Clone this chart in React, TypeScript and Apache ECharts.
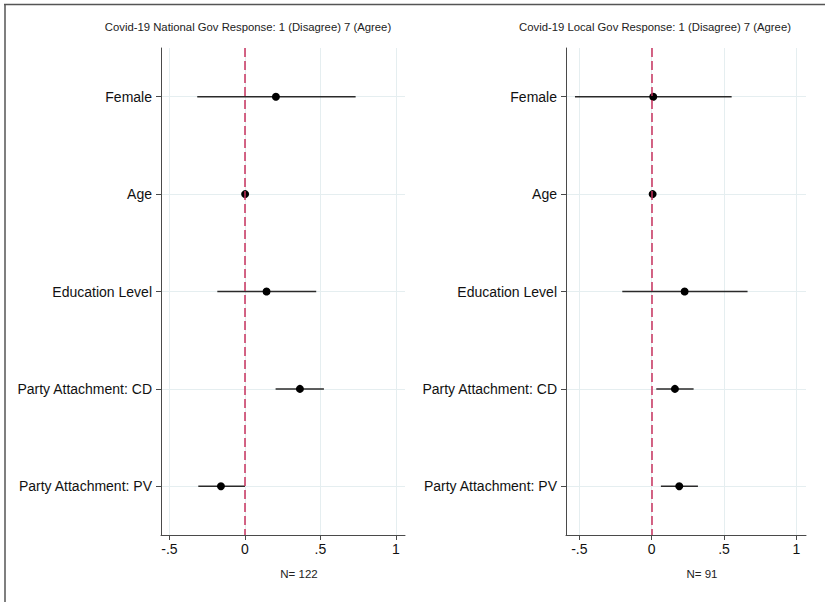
import React, { useEffect, useRef } from "react";
import * as echarts from "echarts";

const categories = ["Female", "Age", "Education Level", "Party Attachment: CD", "Party Attachment: PV"];
const xTicks = [-0.5, 0, 0.5, 1];

// National panel
const natEst = [0.205, 0.001, 0.143, 0.364, -0.159];
const natLo = [-0.316, -0.003, -0.183, 0.203, -0.309];
const natHi = [0.733, 0.005, 0.472, 0.523, 0.0];

// Local panel
const locEst = [0.011, 0.007, 0.228, 0.161, 0.191];
const locLo = [-0.53, 0.003, -0.203, 0.032, 0.064];
const locHi = [0.553, 0.011, 0.663, 0.29, 0.32];

const titles = [
  "Covid-19 National Gov Response: 1 (Disagree) 7 (Agree)",
  "Covid-19 Local Gov Response: 1 (Disagree) 7 (Agree)",
];
const nLabels = ["N= 122", "N= 91"];

const FONT = "Liberation Sans, Arial, Helvetica, sans-serif";
const GRIDC = "#e5eef0";
const AXISC = "#4a4a4a";

const fmtX = (v: number) => {
  if (v === 0) return "0";
  if (v === 1) return "1";
  return String(v).replace("0.", ".");
};

export default function App() {
  const ref = useRef<HTMLDivElement>(null);
  useEffect(() => {
    if (!ref.current) return;
    const chart = echarts.init(ref.current, null, { renderer: "svg" });

    const grids = [
      { left: 161, top: 48, width: 244, height: 487 },
      { left: 566, top: 48, width: 240, height: 487 },
    ];
    const xRanges = [
      [-0.556, 1.06],
      [-0.592, 1.067],
    ];

    const xAxis = xRanges.map((r, i) => ({
      type: "value",
      gridIndex: i,
      min: r[0],
      max: r[1],
      position: "bottom",
      axisLine: { show: true, onZero: false, lineStyle: { color: AXISC, width: 1 } },
      axisTick: { show: true, length: 5, customValues: xTicks, lineStyle: { color: AXISC } },
      axisLabel: {
        customValues: xTicks,
        formatter: fmtX,
        fontSize: 14,
        fontFamily: FONT,
        color: "#111",
        margin: 7,
      },
      splitLine: { show: true, lineStyle: { color: GRIDC, width: 1 } },
    }));

    const yIdx = categories.map((_, i) => i);
    const yAxis = [0, 1].map((i) => ({
      type: "value",
      gridIndex: i,
      min: -0.5,
      max: 4.5,
      inverse: true,
      axisLine: { show: true, onZero: false, lineStyle: { color: AXISC, width: 1 } },
      axisTick: { show: true, length: 5, customValues: yIdx, lineStyle: { color: AXISC } },
      axisLabel: {
        customValues: yIdx,
        formatter: (v: number) => categories[Math.round(v)] ?? "",
        fontSize: 14,
        fontFamily: FONT,
        color: "#111",
        margin: 9,
      },
      splitLine: { show: true, lineStyle: { color: GRIDC, width: 1 } },
    }));

    const panels = [
      { est: natEst, lo: natLo, hi: natHi },
      { est: locEst, lo: locLo, hi: locHi },
    ];

    const series: any[] = [];
    panels.forEach((p, i) => {
      series.push({
        type: "custom",
        xAxisIndex: i,
        yAxisIndex: i,
        z: 2,
        encode: { x: [1, 2], y: 0 },
        data: categories.map((_, k) => [k, p.lo[k], p.hi[k]]),
        renderItem: (params: any, api: any) => {
          const y = api.value(0);
          const a = api.coord([api.value(1), y]);
          const b = api.coord([api.value(2), y]);
          return {
            type: "line",
            shape: { x1: a[0], y1: a[1], x2: b[0], y2: b[1] },
            style: { stroke: "#2a2a2a", lineWidth: 1.5 },
          };
        },
        markLine: {
          silent: true,
          symbol: "none",
          label: { show: false },
          lineStyle: { color: "#c8325e", type: [9, 4], width: 1.5 },
          data: [{ xAxis: 0 }],
        },
      });
      series.push({
        type: "scatter",
        xAxisIndex: i,
        yAxisIndex: i,
        z: 3,
        symbol: "circle",
        symbolSize: 8,
        itemStyle: { color: "#000", opacity: 1 },
        data: categories.map((_, k) => [p.est[k], k]),
      });
    });

    const textStyle = (size: number) => ({
      fontSize: size,
      fontFamily: FONT,
      fill: "#222",
    });

    chart.setOption({
      animation: false,
      backgroundColor: "#fff",
      grid: grids,
      xAxis,
      yAxis,
      series,
      graphic: [
        { type: "line", shape: { x1: 4, y1: 4.5, x2: 825, y2: 4.5 }, style: { stroke: "#555", lineWidth: 1.5 } },
        { type: "line", shape: { x1: 5, y1: 4, x2: 5, y2: 602 }, style: { stroke: "#555", lineWidth: 1.5 } },
        { type: "text", x: 248, y: 27, style: { ...textStyle(11.3), text: titles[0], textAlign: "center", textVerticalAlign: "middle" } },
        { type: "text", x: 655, y: 27, style: { ...textStyle(11.3), text: titles[1], textAlign: "center", textVerticalAlign: "middle" } },
        { type: "text", x: 299, y: 574, style: { ...textStyle(11.5), text: nLabels[0], textAlign: "center", textVerticalAlign: "middle" } },
        { type: "text", x: 702, y: 574, style: { ...textStyle(11.5), text: nLabels[1], textAlign: "center", textVerticalAlign: "middle" } },
      ],
    });
    return () => chart.dispose();
  }, []);
  return (
    <div
      ref={ref}
      style={{ position: "fixed", left: 0, top: 0, width: 825, height: 602, background: "#fff" }}
    />
  );
}
